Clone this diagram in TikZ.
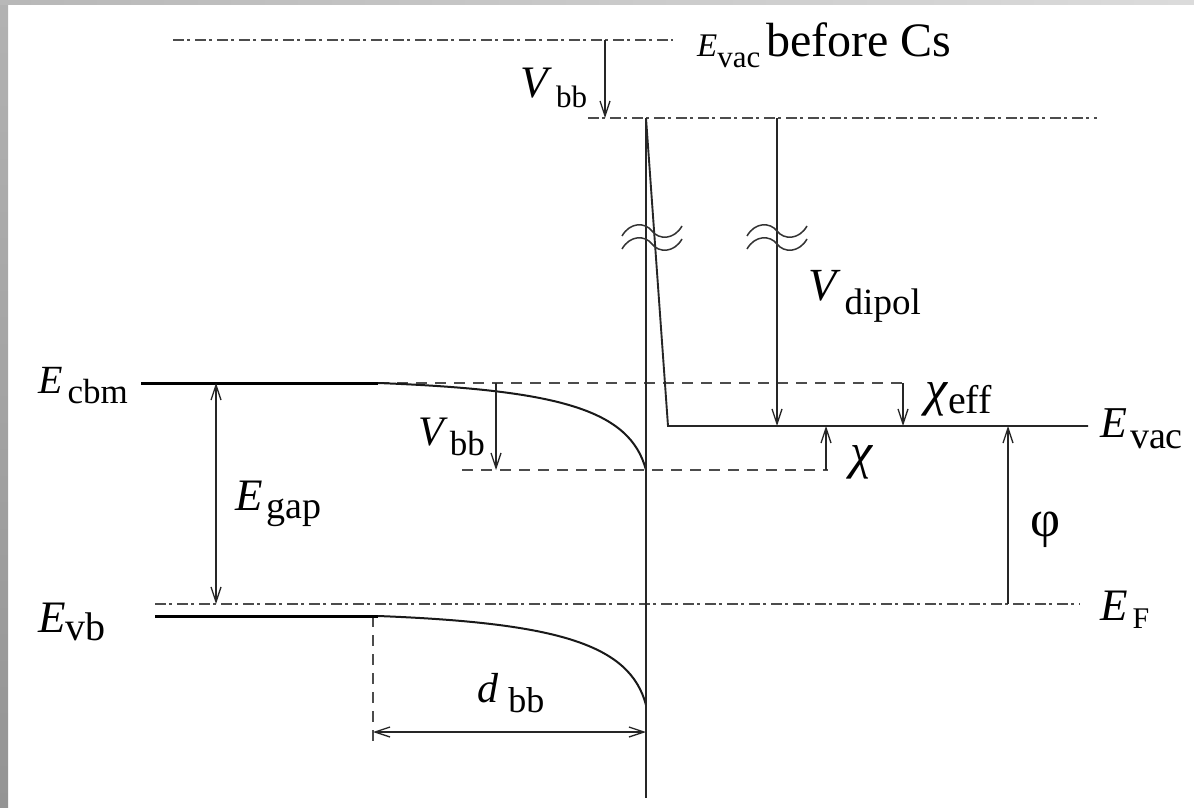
\documentclass[tikz,border=0pt]{standalone}
\usepackage{fontspec}
\IfFontExistsTF{LiberationSerif-Regular.ttf}{%
  \setmainfont{LiberationSerif}[Extension=.ttf, UprightFont=*-Regular, ItalicFont=*-Italic, BoldFont=*-Bold, BoldItalicFont=*-BoldItalic]}{%
  \setmainfont{Liberation Serif}}
\usetikzlibrary{arrows.meta}
\newcommand{\fsz}[1]{\fontsize{#1}{#1}\selectfont}
\begin{document}
\begin{tikzpicture}[x=1pt,y=-1pt,
  thinline/.style={line width=1.6pt, draw=black!85},
  band/.style={line width=3pt, draw=black},
  curveline/.style={line width=2pt, draw=black!90},
  dashdotline/.style={line width=1.8pt, draw=black!70, dash pattern=on 11pt off 3pt on 3pt off 5pt},
  dashline/.style={line width=1.8pt, draw=black!70, dash pattern=on 11pt off 8pt},
  arr/.style={thinline, -{Straight Barb[length=15pt,width=10pt,line width=1.3pt]}},
  darr/.style={thinline, {Straight Barb[length=15pt,width=10pt,line width=1.3pt]}-{Straight Barb[length=15pt,width=10pt,line width=1.3pt]}},
  wave/.style={line width=1.5pt, draw=black!80},
  lbl/.style={inner sep=0pt, anchor=base west, text=black, font=\rmfamily}
]
\useasboundingbox (0,0) rectangle (1194,808);
\fill[white] (0,0) rectangle (1194,808);
% frame
\shade[top color=black!30, bottom color=black!42] (0,0) rectangle (8,808);
\shade[left color=black!28, right color=black!14] (0,0) rectangle (1194,5);

% coordinates
\coordinate (topL) at (173,40);   \coordinate (topR) at (673,40);
\coordinate (vt1) at (605,40);    \coordinate (vt2) at (605,118);
\coordinate (vacL) at (588,118);  \coordinate (vacR) at (1097,118);
\coordinate (spike) at (646,118); \coordinate (surfB) at (646,798);
\coordinate (corner) at (668,426);\coordinate (evacR) at (1088,426);
\coordinate (dipT) at (777,118);  \coordinate (dipB) at (777,426);
\coordinate (cbmL) at (141,383);  \coordinate (cbmK) at (378,383);
\coordinate (surfC) at (646,470);
\coordinate (cbmDR) at (908,383);
\coordinate (ceT) at (903,383);   \coordinate (ceB) at (903,426);
\coordinate (lowDL) at (462,470); \coordinate (lowDR) at (828,470);
\coordinate (chB) at (826,470);   \coordinate (chT) at (826,426);
\coordinate (efL) at (155,604);   \coordinate (efR) at (1080,604);
\coordinate (phB) at (1008,604);  \coordinate (phT) at (1008,426);
\coordinate (vbL) at (155,616);   \coordinate (vbK) at (378,616);
\coordinate (surfV) at (646,705);
\coordinate (gapT) at (216,383);  \coordinate (gapB) at (216,604);
\coordinate (vmT) at (496,383);   \coordinate (vmB) at (496,470);
\coordinate (dT) at (373,616);    \coordinate (dB) at (373,745);
\coordinate (dL) at (373,732);    \coordinate (dR) at (646,732);

% dash-dot levels
\draw[dashdotline] (topL) -- (topR);
\draw[dashdotline] (vacL) -- (vacR);
\draw[dashdotline] (efL) -- (efR);
% dashed levels
\draw[dashline] (cbmK) -- (cbmDR);
\draw[dashline] (lowDL) -- (lowDR);
\draw[dashline] (dT) -- (dB);

% bands
\draw[band] (cbmL) -- (cbmK);
\draw[curveline] (cbmK) .. controls (560,390) and (630,410) .. (surfC);
\draw[band] (vbL) -- (vbK);
\draw[curveline] (vbK) .. controls (560,623) and (630,645) .. (surfV);

% surface and vacuum level
\draw[thinline] (spike) -- (surfB);
\draw[thinline, line width=1.9pt] (spike) -- (corner) -- (evacR);

% arrows
\draw[arr] (vt1) -- (vt2);
\draw[arr] (dipT) -- (dipB);
\draw[arr] (ceT) -- (ceB);
\draw[arr] (chB) -- (chT);
\draw[arr] (phB) -- (phT);
\draw[arr] (vmT) -- (vmB);
\draw[darr] (gapT) -- (gapB);
\draw[darr] (dL) -- (dR);

% break marks
\foreach \cx in {652,777}{
  \foreach \dy in {0,13}{
    \draw[wave] (\cx-30,236+\dy) .. controls (\cx-22,222+\dy) and (\cx-7,222+\dy) .. (\cx,231+\dy)
                .. controls (\cx+7,240+\dy) and (\cx+22,240+\dy) .. (\cx+30,226+\dy);
  }
}

% labels
\node[lbl] (tEvac) at (697,57) {{\fsz{33}\textit{E}}\raisebox{-10pt}{\fsz{31}vac}\hspace{6pt}{\fsz{48}before Cs}};
\node[lbl] (tVbbTop) at (520,97) {{\fsz{45}\textit{V}}\hspace{4pt}\raisebox{-10pt}{\fsz{31}bb}};
\node[lbl] (tVdip) at (808,300) {{\fsz{46}\textit{V}}\hspace{4pt}\raisebox{-14pt}{\fsz{37}dipol}};
\node[lbl] (tEcbm) at (38,393) {{\fsz{40}\textit{E}}\hspace{5pt}\raisebox{-10pt}{\fsz{35}cbm}};
\node[lbl] (tVbbMid) at (418,445) {{\fsz{42}\textit{V}}\hspace{2pt}\raisebox{-10pt}{\fsz{35}bb}};
\node[lbl] (tChiEff) at (925,405) {{\fsz{50}\textit{χ}}\raisebox{-8pt}{\fsz{40}eff}};
\node[lbl] (tChi) at (850,468) {\fsz{50}\textit{χ}};
\node[lbl] (tEvacR) at (1100,437) {{\fsz{44}\textit{E}}\hspace{3pt}\raisebox{-11pt}{\fsz{38}vac}};
\node[lbl] (tEgap) at (235,510) {{\fsz{45}\textit{E}}\hspace{4pt}\raisebox{-8pt}{\fsz{38}gap}};
\node[lbl] (tPhi) at (1030,536) {\fsz{52}φ};
\node[lbl] (tEvb) at (38,632) {{\fsz{45}\textit{E}}\raisebox{-8pt}{\fsz{40}vb}};
\node[lbl] (tEF) at (1100,620) {{\fsz{45}\textit{E}}\hspace{5pt}\raisebox{-8pt}{\fsz{30}F}};
\node[lbl] (tdbb) at (477,702) {{\fsz{42}\textit{d}}\hspace{10pt}\raisebox{-10pt}{\fsz{36}bb}};
\end{tikzpicture}
\end{document}
